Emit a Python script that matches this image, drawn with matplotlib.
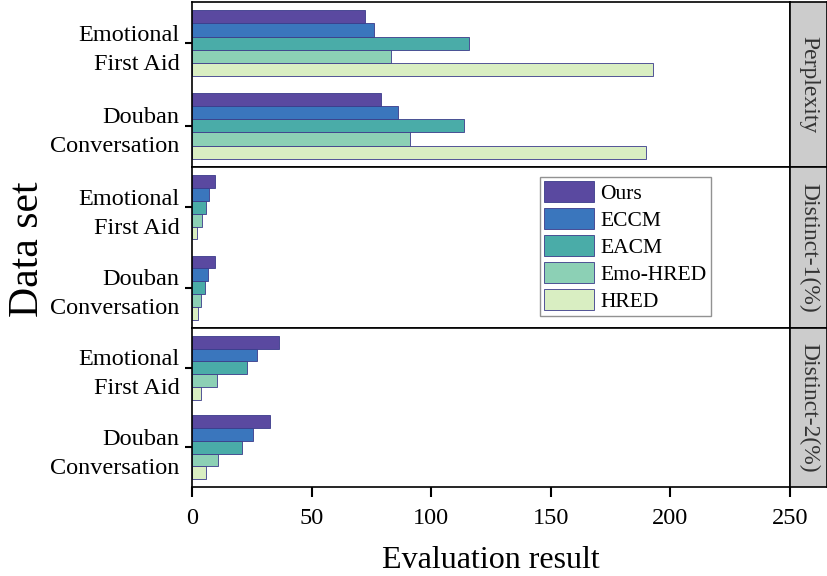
import numpy as np
import matplotlib
matplotlib.use('Agg')
import matplotlib.pyplot as plt

plt.rcParams['font.family'] = ['Liberation Serif', 'DejaVu Serif']

datasets = ['Douban\nConversation', 'Emotional\nFirst Aid']
models = ['Ours', 'ECCM', 'EACM', 'Emo-HRED', 'HRED']
metrics = ['Perplexity', 'Distinct-1(%)', 'Distinct-2(%)']
colors = ['#5a49a0', '#3a76bd', '#4aaca8', '#8cd0b5', '#d9eec2']

# values per metric: [Douban, Emotional] for each model
perplexity = {
    'Ours': [79, 72.3],
    'ECCM': [86, 76],
    'EACM': [113.7, 115.8],
    'Emo-HRED': [91, 83.2],
    'HRED': [189.8, 192.7],
}
distinct1 = {
    'Ours': [9.7, 9.5],
    'ECCM': [6.8, 7.3],
    'EACM': [5.4, 5.9],
    'Emo-HRED': [3.8, 4.0],
    'HRED': [2.6, 2.2],
}
distinct2 = {
    'Ours': [32.6, 36.3],
    'ECCM': [25.7, 27.3],
    'EACM': [20.7, 22.9],
    'Emo-HRED': [10.7, 10.3],
    'HRED': [5.9, 3.9],
}
panels = [perplexity, distinct1, distinct2]

fig = plt.figure(figsize=(8.28, 5.76), dpi=100)
left, right = 192 / 828., 790 / 828.
tops = [2, 167, 328, 487]
axes = []
for i in range(3):
    y0 = 1 - tops[i + 1] / 576.
    y1 = 1 - tops[i] / 576.
    ax = fig.add_axes([left, y0, right - left, y1 - y0])
    axes.append(ax)
    sax = fig.add_axes([right, y0, 827 / 828. - right, y1 - y0])
    sax.set_facecolor('#cccccc')
    sax.set_xticks([])
    sax.set_yticks([])
    for s in sax.spines.values():
        s.set_linewidth(1.2)
    sax.text(0.5, 0.5, metrics[i], rotation=270, ha='center', va='center',
             fontsize=17, color='#333333', transform=sax.transAxes)

pos = np.array([1, 2])
h = 0.16
offsets = [0.32, 0.16, 0.0, -0.16, -0.32]
for i, ax in enumerate(axes):
    data = panels[i]
    for m, c, off in zip(models, colors, offsets):
        ax.barh(pos + off, data[m], height=h, color=c, edgecolor='#3a3a8a',
                linewidth=0.6, label=m)
    ax.set_xlim(0, 250)
    ax.set_ylim(0.5, 2.5)
    ax.set_yticks(pos)
    ax.set_yticklabels(datasets, fontsize=17.5, ha='right',
                       multialignment='right', linespacing=1.5)
    ax.tick_params(axis='y', length=5, width=1.5, direction='out', pad=4)
    for s in ax.spines.values():
        s.set_linewidth(1.2)
    if i < 2:
        ax.set_xticks([])
    else:
        ax.set_xticks([0, 50, 100, 150, 200, 250])
        ax.tick_params(axis='x', labelsize=17.5, length=7, width=1.5,
                       direction='out', pad=8)
        ax.set_xlabel('Evaluation result', fontsize=23, labelpad=12)

fig.text(0.033, 0.568, 'Data set', rotation=90, ha='center', va='center', fontsize=30)

handles, labels = axes[1].get_legend_handles_labels()
leg = axes[1].legend(handles, labels, loc='upper left',
                     bbox_to_anchor=(540 / 828., 1 - 177 / 576.),
                     bbox_transform=fig.transFigure, fontsize=15.5,
                     handlelength=2.3, handleheight=1.1, labelspacing=0.2,
                     handletextpad=0.3, borderpad=0.2, fancybox=False,
                     frameon=True, borderaxespad=0)
leg.get_frame().set_edgecolor('#777777')
leg.get_frame().set_linewidth(1.0)

plt.savefig('out.png', dpi=100)
